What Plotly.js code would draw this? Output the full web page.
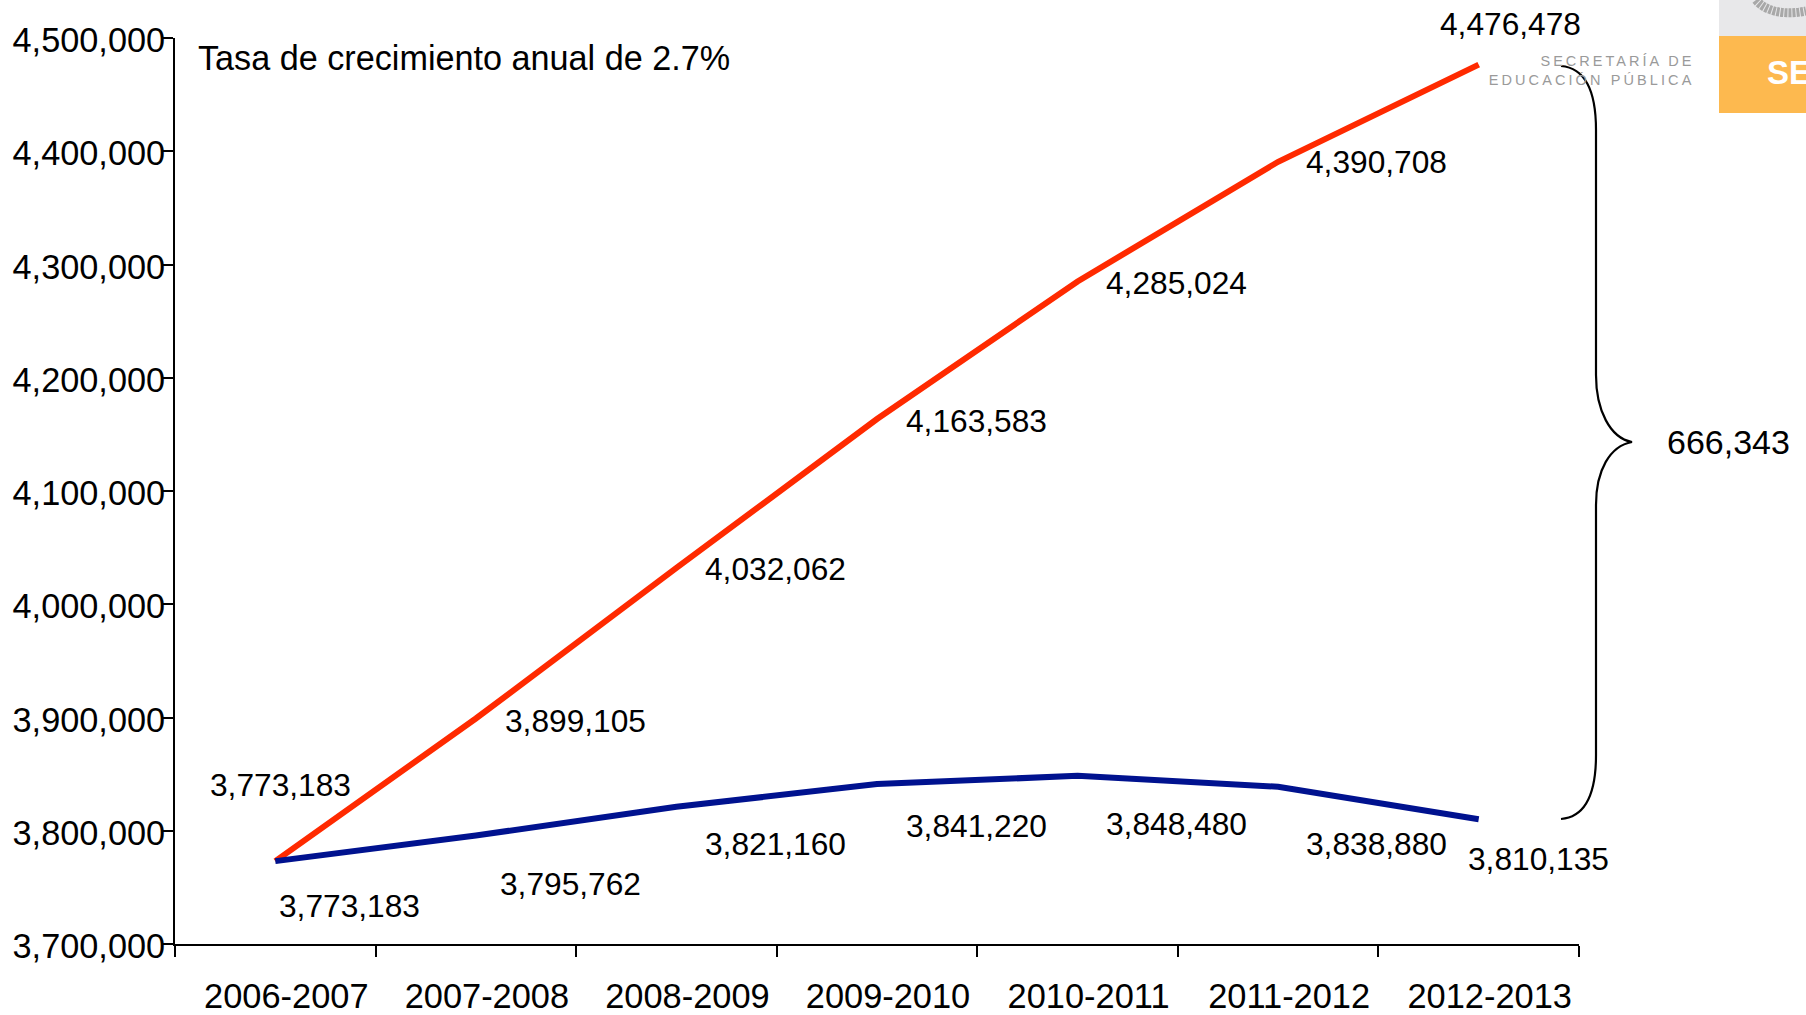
<!DOCTYPE html>
<html><head><meta charset="utf-8">
<script src="https://cdn.plot.ly/plotly-3.0.1.min.js"></script>
<style>html,body{margin:0;padding:0;background:#fff}
.annotation[data-index="0"] text{letter-spacing:3px}
.annotation[data-index="1"] text{letter-spacing:3.1px}
</style></head><body>
<div id="chart" style="width:1806px;height:1015px"></div>
<script>
const cycles=["2006-2007","2007-2008","2008-2009","2009-2010","2010-2011","2011-2012","2012-2013"];
const projected=[3773183,3899105,4032062,4163583,4285024,4390708,4476478];
const actual=[3773183,3795762,3821160,3841220,3848480,3838880,3810135];
const yTicks=[3700000,3800000,3900000,4000000,4100000,4200000,4300000,4400000,4500000];
const projectedOffsets=[[5,-76],[100,2],[99,1],[99,2],[99,2],[98,0],[32,-41]];
const actualOffsets=[[74,45],[95,48],[99,37],[99,42],[99,48],[98,57],[60,40]];
const W=1806,H=1015,L=175,R=1579,T=38,B=944;
const px=x=>(x-L)/(R-L), py=y=>(B-y)/(B-T);
const font='"Liberation Sans",Arial,sans-serif';
const fmt=v=>v.toLocaleString('en-US');
const dataLabels=(vals,offs)=>vals.map((v,i)=>({x:cycles[i],y:v,xref:'x',yref:'y',text:fmt(v),showarrow:false,
  xshift:offs[i][0],yshift:-offs[i][1],xanchor:'center',yanchor:'middle',font:{family:font,size:31.7,color:'#000'}}));
const free=(x,y,text,size,color,xanchor,extra)=>Object.assign({x:px(x),y:py(y),xref:'paper',yref:'paper',text,showarrow:false,
  xanchor,yanchor:'middle',font:{family:font,size,color}},extra||{});
const annotations=[
  free(1677,61,'SECRETARÍA DE',14.5,'#9a9a9a','right'),
  free(1670,80,'EDUCACIÓN PÚBLICA',14.5,'#9a9a9a','right'),
  free(1765,73,'<b>SE</b>',33,'#ffffff','left'),
  free(196,58.5,'Tasa de crecimiento anual de 2.7%',34.2,'#000','left'),
  free(1728,442,'666,343',34,'#000','center'),
  ...dataLabels(projected,projectedOffsets),
  ...dataLabels(actual,actualOffsets)
];
const P=(x,y)=>`${px(x)},${py(y)}`;
const brace=`M ${P(1561,66)} C ${P(1585,68)} ${P(1596,90)} ${P(1596,130)} L ${P(1596,375)} C ${P(1596,410)} ${P(1610,438)} ${P(1632,442)} C ${P(1610,446)} ${P(1596,470)} ${P(1596,505)} L ${P(1596,755)} C ${P(1596,795)} ${P(1585,817)} ${P(1561,819)}`;
const emblem=`M ${P(1756,0)} C ${P(1764,10)} ${P(1782,16)} ${P(1806,11)}`;
const rect=(x0,y0,x1,y1,color)=>({type:'rect',xref:'paper',yref:'paper',x0:px(x0),x1:px(x1),y0:py(y1),y1:py(y0),fillcolor:color,line:{width:0},layer:'below'});
const shapes=[
  rect(1719,0,1806,36,'#e8e8ea'),
  rect(1719,36,1806,113,'#fdb94f'),
  {type:'path',xref:'paper',yref:'paper',path:emblem,line:{color:'#a8a8a8',width:9,dash:'3px,1px'}},
  {type:'path',xref:'paper',yref:'paper',path:brace,line:{color:'#000',width:2.2}}
];
const traces=[
 {x:cycles,y:projected,mode:'lines',line:{color:'#ff2a00',width:6},hoverinfo:'skip',cliponaxis:false},
 {x:cycles,y:actual,mode:'lines',line:{color:'#00128f',width:6},hoverinfo:'skip',cliponaxis:false}
];
Plotly.newPlot('chart',traces,{
  width:W,height:H,paper_bgcolor:'#fff',plot_bgcolor:'#fff',showlegend:false,
  margin:{l:L,r:W-R,t:T,b:H-B,pad:0},
  xaxis:{type:'category',range:[-0.5,6.5],tickson:'boundaries',ticks:'outside',ticklen:11,tickwidth:2,tickcolor:'#000',
    showline:true,linecolor:'#000',linewidth:2,showgrid:false,zeroline:false,ticklabelstandoff:21,ticklabelshift:11,
    tickfont:{family:font,size:34.4,color:'#000'}},
  yaxis:{range:[3700000,4500000],tickvals:yTicks,ticktext:yTicks.map(fmt),ticks:'outside',ticklen:10,tickwidth:2,tickcolor:'#000',
    showline:true,linecolor:'#000',linewidth:2,showgrid:false,zeroline:false,ticklabelstandoff:-9,ticklabelshift:2,
    tickfont:{family:font,size:34.3,color:'#000'}},
  annotations,shapes
},{displayModeBar:false,staticPlot:true});
</script></body></html>
